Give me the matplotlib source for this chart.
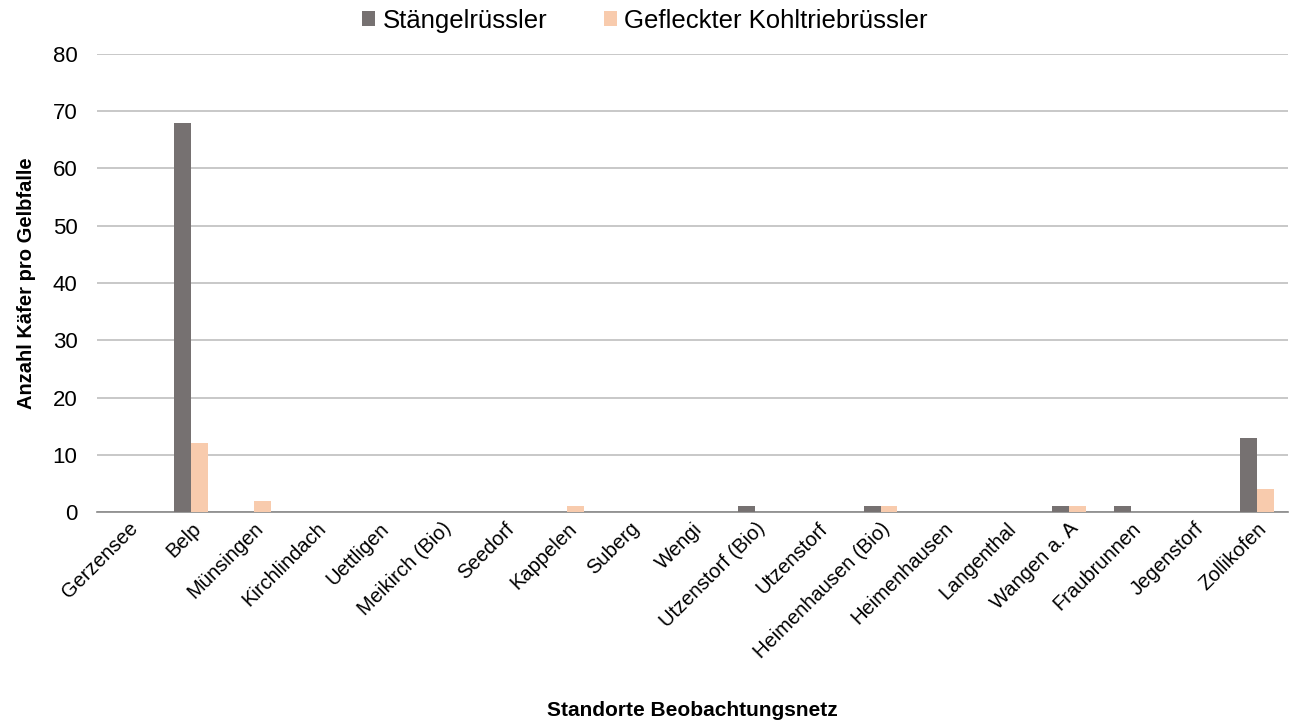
import matplotlib.pyplot as plt
import numpy as np

plt.rcParams['font.family'] = ['Liberation Sans', 'DejaVu Sans']

standorte = ["Gerzensee", "Belp", "Münsingen", "Kirchlindach", "Uettligen", "Meikirch (Bio)",
             "Seedorf", "Kappelen", "Suberg", "Wengi", "Utzenstorf (Bio)", "Utzenstorf",
             "Heimenhausen (Bio)", "Heimenhausen", "Langenthal", "Wangen a. A", "Fraubrunnen",
             "Jegenstorf", "Zollikofen"]
staengelruessler = [0, 68, 0, 0, 0, 0, 0, 0, 0, 0, 1, 0, 1, 0, 0, 1, 1, 0, 13]
kohltriebruessler = [0, 12, 2, 0, 0, 0, 0, 1, 0, 0, 0, 0, 1, 0, 0, 1, 0, 0, 4]

dark = "#767171"
light = "#F8CBAD"

fig = plt.figure(figsize=(12.9, 7.2), dpi=100)
ax = fig.add_axes([97 / 1290, 1 - 512 / 720, 1191 / 1290, 458 / 720])

x = np.arange(len(standorte))
w = 0.27
ax.bar(x - w / 2, staengelruessler, width=w, color=dark, label="Stängelrüssler", zorder=3)
ax.bar(x + w / 2, kohltriebruessler, width=w, color=light, label="Gefleckter Kohltriebrüssler", zorder=3)

ax.set_xlim(-0.5, len(standorte) - 0.5)
ax.set_ylim(0, 80)
ax.set_yticks(range(0, 81, 10))
ax.yaxis.grid(True, color="#BFBFBF", linewidth=1.2, zorder=0)
ax.set_axisbelow(True)

for s in ["top", "right", "left"]:
    ax.spines[s].set_visible(False)
ax.spines["bottom"].set_color("#898989")
ax.spines["bottom"].set_linewidth(1.2)
ax.tick_params(axis="y", length=0, labelsize=16, pad=14)
ax.tick_params(axis="x", length=0, labelsize=14.5, pad=5)

ax.set_xticks(x)
ax.set_xticklabels(standorte, rotation=45, ha="right", rotation_mode="anchor")

ax.set_ylabel("Anzahl Käfer pro Gelbfalle", fontsize=14.5, fontweight="bold", labelpad=12)
ax.set_xlabel("Standorte Beobachtungsnetz", fontsize=15, fontweight="bold", labelpad=28)

fig.legend(loc="upper center", bbox_to_anchor=(0.5, 1.02), ncol=2, frameon=False,
           fontsize=18.5, handlelength=0.5, handleheight=0.5, handletextpad=0.3,
           columnspacing=2.2)

fig.savefig("out.png", dpi=100)
